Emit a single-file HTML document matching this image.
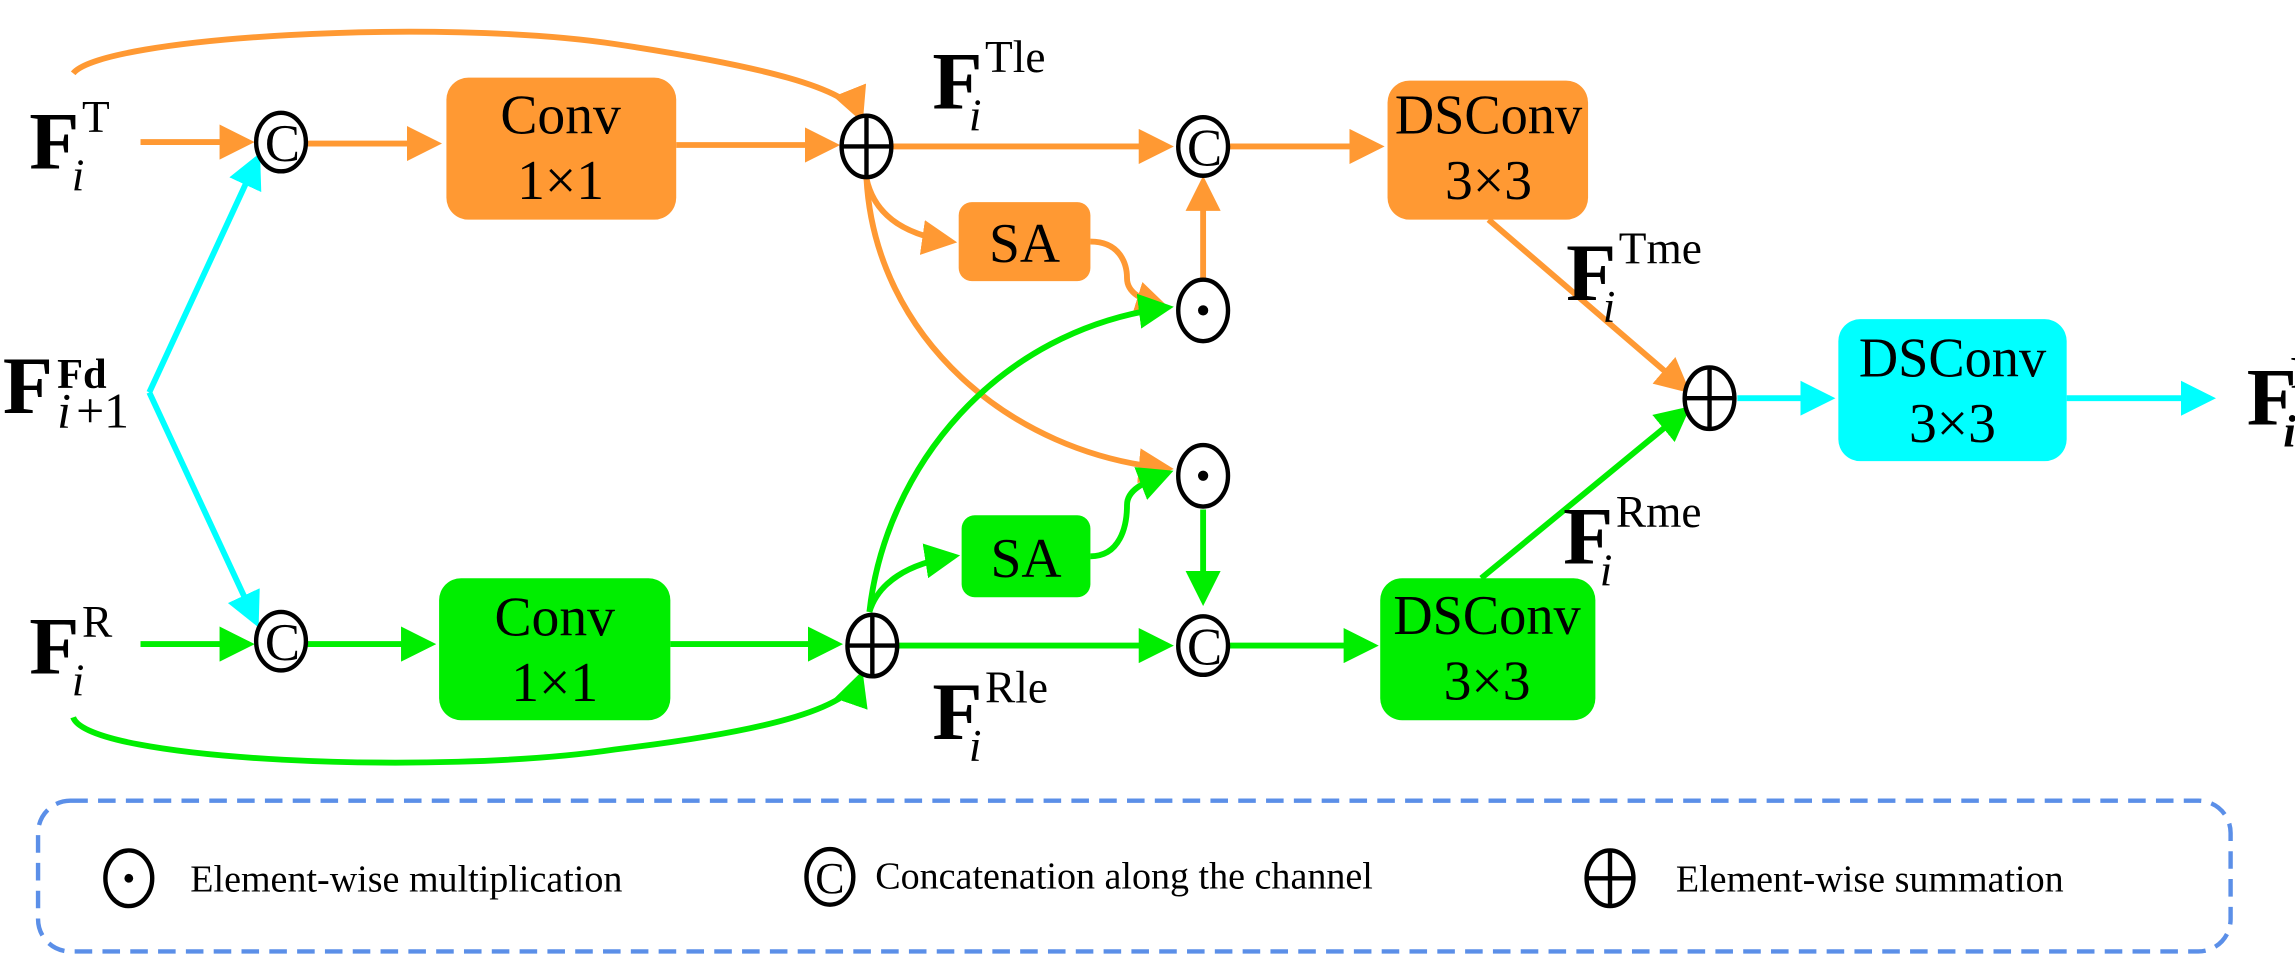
<!DOCTYPE html>
<html><head><meta charset="utf-8"><style>
html,body{margin:0;padding:0;background:#fff;}
svg{display:block;}
text{font-family:"Liberation Serif",serif;fill:#000;}
</style></head><body>
<svg width="2295" height="975" viewBox="0 0 1568 666" xmlns="http://www.w3.org/2000/svg" font-family="Liberation Serif, serif">
<defs>
<marker id="ao" markerWidth="6" markerHeight="6" refX="5" refY="3" orient="auto" markerUnits="strokeWidth"><path d="M0,0 L6,3 L0,6 z" fill="#FF9933"/></marker>
<marker id="ag" markerWidth="6" markerHeight="6" refX="5" refY="3" orient="auto" markerUnits="strokeWidth"><path d="M0,0 L6,3 L0,6 z" fill="#00EE00"/></marker>
<marker id="ac" markerWidth="6" markerHeight="6" refX="5" refY="3" orient="auto" markerUnits="strokeWidth"><path d="M0,0 L6,3 L0,6 z" fill="#00FFFF"/></marker>
</defs>
<g fill="none" stroke-width="4">
<g stroke="#FF9933">
<path d="M50,50 C70,25 300,12 420,30 C520,45 580,60 588,80" marker-end="url(#ao)"/>
<line x1="96" y1="97" x2="170" y2="97" marker-end="url(#ao)"/>
<line x1="210" y1="98" x2="298" y2="98" marker-end="url(#ao)"/>
<line x1="462" y1="99" x2="570" y2="99" marker-end="url(#ao)"/>
<line x1="610" y1="100" x2="798" y2="100" marker-end="url(#ao)"/>
<line x1="840" y1="100" x2="942" y2="100" marker-end="url(#ao)"/>
<path d="M592,122 C597,145 615,160 650,165" marker-end="url(#ao)"/>
<path d="M745,165 C765,165 770,180 770,190 C770,200 780,205 796,210" marker-end="url(#ao)"/>
<line x1="822" y1="190" x2="822" y2="124" marker-end="url(#ao)"/>
<path d="M592,122 C598,230 690,310 798,320" marker-end="url(#ao)"/>
<line x1="1017" y1="150" x2="1152" y2="266" marker-end="url(#ao)"/>
</g>
<g stroke="#00EE00">
<path d="M50,490 C60,520 300,530 420,512 C520,500 580,485 588,462" marker-end="url(#ag)"/>
<line x1="96" y1="440" x2="170" y2="440" marker-end="url(#ag)"/>
<line x1="210" y1="440" x2="294" y2="440" marker-end="url(#ag)"/>
<line x1="458" y1="440" x2="572" y2="440" marker-end="url(#ag)"/>
<line x1="612" y1="441" x2="798" y2="441" marker-end="url(#ag)"/>
<line x1="840" y1="441" x2="938" y2="441" marker-end="url(#ag)"/>
<path d="M594,418 C605,320 680,225 798,210" marker-end="url(#ag)"/>
<path d="M594,418 C600,398 620,385 652,380" marker-end="url(#ag)"/>
<path d="M745,380 C765,380 770,360 770,345 C770,335 780,330 798,323" marker-end="url(#ag)"/>
<line x1="822" y1="348" x2="822" y2="410" marker-end="url(#ag)"/>
<line x1="1012" y1="395" x2="1152" y2="280" marker-end="url(#ag)"/>
</g>
<g stroke="#00FFFF">
<line x1="102" y1="268" x2="176" y2="108" marker-end="url(#ac)"/>
<line x1="102" y1="268" x2="175" y2="425" marker-end="url(#ac)"/>
<line x1="1187" y1="272" x2="1250" y2="272" marker-end="url(#ac)"/>
<line x1="1412" y1="272" x2="1510" y2="272" marker-end="url(#ac)"/>
</g>
</g>
<rect x="305" y="53" width="157" height="97" rx="15" fill="#FF9933"/>
<rect x="300" y="395" width="158" height="97" rx="15" fill="#00EE00"/>
<rect x="655" y="138" width="90" height="54" rx="9" fill="#FF9933"/>
<rect x="657" y="352" width="88" height="56" rx="9" fill="#00EE00"/>
<rect x="948" y="55" width="137" height="95" rx="15" fill="#FF9933"/>
<rect x="943" y="395" width="147" height="97" rx="15" fill="#00EE00"/>
<rect x="1256" y="218" width="156" height="97" rx="15" fill="#00FFFF"/>
<g font-size="38" text-anchor="middle">
<text x="383" y="91">Conv</text><text x="383" y="136">1×1</text>
<text x="379" y="434">Conv</text><text x="379" y="479">1×1</text>
<text x="1017" y="91" textLength="128" lengthAdjust="spacingAndGlyphs">DSConv</text><text x="1017" y="136">3×3</text>
<text x="1016" y="433" textLength="128" lengthAdjust="spacingAndGlyphs">DSConv</text><text x="1016" y="478">3×3</text>
<text x="1334" y="257" textLength="128" lengthAdjust="spacingAndGlyphs">DSConv</text><text x="1334" y="302">3×3</text>
<text x="700" y="179">SA</text><text x="701" y="394">SA</text>
</g>
<g fill="#fff" stroke="#000" stroke-width="3">
<ellipse cx="592" cy="100" rx="17" ry="21"/>
<ellipse cx="596" cy="441" rx="17" ry="21"/>
<ellipse cx="1168" cy="272" rx="17" ry="21"/>
<ellipse cx="822" cy="212" rx="17" ry="21"/>
<ellipse cx="822" cy="325" rx="17" ry="21"/>
<ellipse cx="192" cy="97" rx="17" ry="20"/>
<ellipse cx="192" cy="438" rx="17" ry="20"/>
<ellipse cx="822" cy="100" rx="17" ry="20"/>
<ellipse cx="822" cy="441" rx="17" ry="20"/>
<ellipse cx="88" cy="600" rx="16" ry="19"/>
<ellipse cx="567" cy="599" rx="16" ry="19"/>
<ellipse cx="1100" cy="600" rx="16" ry="19"/>
</g>
<g stroke="#000" stroke-width="3">
<line x1="575" y1="100" x2="609" y2="100"/><line x1="592" y1="79" x2="592" y2="121"/>
<line x1="579" y1="441" x2="613" y2="441"/><line x1="596" y1="420" x2="596" y2="462"/>
<line x1="1151" y1="272" x2="1185" y2="272"/><line x1="1168" y1="251" x2="1168" y2="293"/>
<line x1="1084" y1="600" x2="1116" y2="600"/><line x1="1100" y1="581" x2="1100" y2="619"/>
</g>
<g fill="#000"><circle cx="822" cy="212" r="3.5"/><circle cx="822" cy="325" r="3.5"/><circle cx="88" cy="600" r="3"/></g>
<g font-size="36" text-anchor="middle">
<text x="193" y="110">C</text><text x="193" y="451">C</text><text x="823" y="113">C</text><text x="823" y="454">C</text>
<text x="567" y="610" font-size="30">C</text>
</g>
<!-- labels -->
<g font-size="56" font-weight="bold">
<text x="20" y="115">F</text>
<text x="20" y="460">F</text>
<text x="2" y="282">F</text>
<text x="637" y="74">F</text>
<text x="637" y="505">F</text>
<text x="1070" y="205">F</text>
<text x="1068" y="385">F</text>
<text x="1535" y="290">F</text>
</g>
<g font-size="31">
<text x="56" y="90">T</text><text x="49" y="130" font-style="italic">i</text>
<text x="56" y="435">R</text><text x="49" y="475" font-style="italic">i</text>
<text x="39" y="265" font-weight="bold" font-size="29">Fd</text><text x="39" y="292" font-style="italic" font-size="34">i</text><text x="52" y="292" font-size="34">+1</text>
<text x="673" y="49">Tle</text><text x="662" y="89" font-style="italic">i</text>
<text x="673" y="480">Rle</text><text x="662" y="520" font-style="italic">i</text>
<text x="1106" y="180">Tme</text><text x="1095" y="220" font-style="italic">i</text>
<text x="1104" y="360">Rme</text><text x="1093" y="400" font-style="italic">i</text>
<text x="1565" y="265" font-weight="bold">F</text><text x="1560" y="305" font-style="italic" font-weight="bold">i</text>
</g>
<rect x="26" y="547" width="1498" height="103" rx="22" fill="none" stroke="#5B8FE8" stroke-width="3" stroke-dasharray="12,7"/>
<g font-size="26">
<text x="130" y="609">Element-wise multiplication</text>
<text x="598" y="607">Concatenation along the channel</text>
<text x="1145" y="609">Element-wise summation</text>
</g>
</svg>
</body></html>
